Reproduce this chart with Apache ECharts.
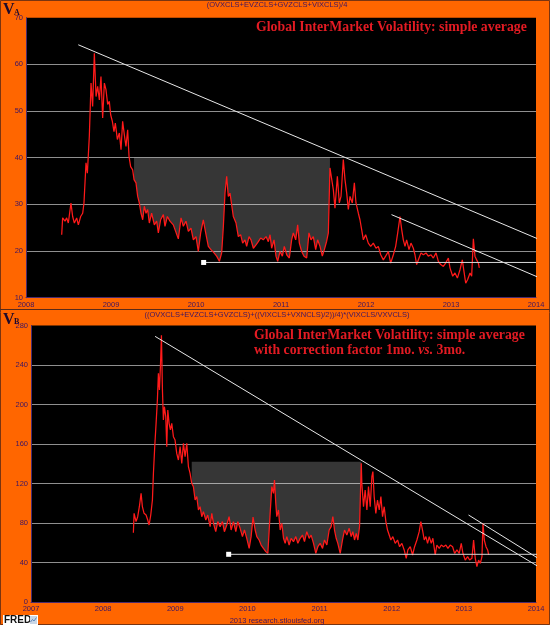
<!DOCTYPE html>
<html>
<head>
<meta charset="utf-8">
<script src="https://cdn.jsdelivr.net/npm/echarts@6/dist/echarts.min.js"></script>
<style>
html, body { margin: 0; padding: 0; background: #ff6600; }
#chart { width: 550px; height: 625px; }
</style>
</head>
<body>
<div id="chart"></div>
<script>
// V_A : (OVXCLS+EVZCLS+GVZCLS+VIXCLS)/4   (dates as decimal years)
var topYears = [2008.420,2008.431,2008.459,2008.478,2008.498,2008.529,2008.549,2008.569,2008.596,2008.616,
  2008.643,2008.667,2008.682,2008.706,2008.722,2008.745,2008.765,2008.784,2008.804,2008.824,
  2008.843,2008.863,2008.882,2008.902,2008.922,2008.941,2008.961,2008.980,2008.996,2009.016,
  2009.035,2009.051,2009.075,2009.098,2009.118,2009.137,2009.157,2009.176,2009.196,2009.212,
  2009.231,2009.255,2009.271,2009.294,2009.314,2009.333,2009.353,2009.373,2009.392,2009.412,
  2009.431,2009.451,2009.478,2009.510,2009.537,2009.557,2009.584,2009.616,2009.635,2009.663,
  2009.694,2009.733,2009.792,2009.824,2009.851,2009.882,2009.910,2009.941,2009.969,2010.000,
  2010.027,2010.055,2010.086,2010.114,2010.145,2010.176,2010.212,2010.243,2010.275,2010.302,
  2010.322,2010.341,2010.361,2010.380,2010.400,2010.439,2010.471,2010.498,2010.525,2010.549,
  2010.576,2010.596,2010.624,2010.647,2010.675,2010.706,2010.733,2010.761,2010.792,2010.824,
  2010.851,2010.871,2010.890,2010.918,2010.941,2010.961,2010.988,2011.016,2011.039,2011.067,
  2011.098,2011.125,2011.145,2011.173,2011.196,2011.216,2011.243,2011.271,2011.302,2011.329,
  2011.353,2011.380,2011.408,2011.431,2011.459,2011.486,2011.510,2011.537,2011.557,2011.576,
  2011.596,2011.616,2011.635,2011.663,2011.686,2011.706,2011.733,2011.753,2011.773,2011.792,
  2011.812,2011.839,2011.863,2011.882,2011.910,2011.929,2011.949,2011.969,2011.996,2012.027,
  2012.055,2012.086,2012.118,2012.145,2012.173,2012.204,2012.231,2012.263,2012.290,2012.322,
  2012.349,2012.373,2012.400,2012.420,2012.439,2012.459,2012.478,2012.506,2012.529,2012.557,
  2012.576,2012.596,2012.624,2012.647,2012.675,2012.706,2012.733,2012.765,2012.792,2012.824,
  2012.851,2012.879,2012.910,2012.937,2012.969,2012.988,2013.020,2013.047,2013.075,2013.106,
  2013.133,2013.153,2013.173,2013.196,2013.224,2013.243,2013.263,2013.282,2013.302,2013.322,
  2013.333];
var topVals = [23.5,27.1,26.4,27.1,26.0,30.3,27.4,26.0,27.1,25.6,
  27.4,28.1,30.3,38.9,36.7,44.6,56.0,51.0,62.4,53.1,
  55.3,52.4,57.4,48.5,56.0,54.6,51.4,52.1,49.2,47.8,
  45.6,47.4,43.9,45.3,41.7,47.8,44.9,42.4,46.0,40.3,
  38.1,37.4,35.3,34.6,31.7,30.3,28.1,26.7,29.6,28.1,
  28.9,26.0,28.1,25.6,26.4,23.9,26.7,27.8,25.3,27.4,
  26.4,25.6,22.6,27.1,25.3,26.4,24.2,24.9,22.4,23.1,
  19.9,23.9,26.7,23.9,21.0,20.3,19.6,18.9,17.8,19.6,
  25.3,32.4,36.0,31.7,32.4,27.4,26.0,23.1,23.5,21.7,
  22.4,21.0,23.1,22.4,20.6,21.3,22.0,22.8,22.4,23.1,
  22.0,23.5,20.6,22.4,18.9,17.8,19.9,18.9,21.0,19.2,
  18.5,22.4,23.9,22.4,25.6,21.7,19.9,18.9,18.5,23.9,
  22.4,23.1,20.3,22.4,21.0,18.9,20.3,22.1,23.9,37.8,
  37.4,33.1,29.2,36.0,30.3,31.7,39.6,35.3,32.4,28.9,
  31.7,30.3,34.6,30.3,28.1,26.7,24.6,22.4,23.5,21.7,
  21.0,21.7,20.6,21.0,19.2,18.1,18.9,19.9,17.4,19.2,
  21.0,23.9,27.4,24.6,22.4,21.0,22.4,20.3,21.7,20.6,
  19.2,17.1,18.5,19.6,19.2,19.6,18.9,19.2,18.5,19.6,
  17.8,17.1,16.7,17.4,18.5,16.4,14.6,15.3,14.2,16.0,
  18.1,15.6,13.1,13.9,15.3,14.6,22.6,18.9,18.1,17.4,
  16.4];
var topTrendLong = [[2008.615, 64.2], [2014.14, 21.7]];
var topTrendShort = [[2012.30, 27.8], [2014.14, 13.5]];
var topFloor = [[2010.09, 17.55], [2014.0, 17.55]];
var topBand = { from: 2009.27, to: 2011.58, level: 40 };

// V_B : ((OVXCLS+EVZCLS+GVZCLS)+((VIXCLS+VXNCLS)/2))/4)*(VIXCLS/VXVCLS)
var botYears = [2008.419,2008.429,2008.456,2008.479,2008.502,2008.526,2008.544,2008.567,2008.595,2008.618,
  2008.637,2008.660,2008.683,2008.697,2008.715,2008.734,2008.752,2008.766,2008.780,2008.794,
  2008.808,2008.822,2008.835,2008.849,2008.868,2008.882,2008.896,2008.914,2008.933,2008.951,
  2008.974,2008.997,2009.020,2009.043,2009.067,2009.090,2009.113,2009.136,2009.159,2009.182,
  2009.205,2009.228,2009.251,2009.275,2009.298,2009.321,2009.344,2009.367,2009.390,2009.423,
  2009.450,2009.483,2009.506,2009.529,2009.561,2009.589,2009.621,2009.654,2009.681,2009.714,
  2009.746,2009.774,2009.806,2009.839,2009.866,2009.899,2009.931,2009.959,2009.991,2010.024,
  2010.051,2010.078,2010.107,2010.130,2010.162,2010.190,2010.222,2010.255,2010.283,2010.315,
  2010.338,2010.361,2010.375,2010.393,2010.407,2010.430,2010.454,2010.477,2010.500,2010.523,
  2010.546,2010.578,2010.606,2010.638,2010.671,2010.699,2010.731,2010.763,2010.791,2010.823,
  2010.856,2010.883,2010.916,2010.948,2010.976,2011.008,2011.041,2011.068,2011.101,2011.133,
  2011.161,2011.184,2011.207,2011.230,2011.253,2011.286,2011.318,2011.346,2011.378,2011.411,
  2011.438,2011.461,2011.485,2011.508,2011.531,2011.554,2011.578,2011.586,2011.609,2011.632,
  2011.656,2011.678,2011.702,2011.725,2011.739,2011.757,2011.780,2011.803,2011.827,2011.850,
  2011.873,2011.896,2011.919,2011.942,2011.965,2011.988,2012.016,2012.049,2012.081,2012.109,
  2012.141,2012.173,2012.201,2012.224,2012.257,2012.289,2012.317,2012.349,2012.381,2012.404,
  2012.427,2012.451,2012.474,2012.497,2012.520,2012.548,2012.571,2012.603,2012.626,2012.659,
  2012.687,2012.719,2012.751,2012.779,2012.811,2012.844,2012.872,2012.904,2012.936,2012.964,
  2012.987,2013.019,2013.052,2013.080,2013.112,2013.135,2013.158,2013.181,2013.204,2013.228,
  2013.251,2013.265,2013.283,2013.307,2013.330,2013.344];
var botVals = [70.2,89.8,81.4,86.4,96.5,110.0,96.5,89.8,88.1,83.0,
  78.0,88.1,103.3,130.3,157.3,181.0,204.6,231.6,214.7,238.3,
  270.0,214.7,184.3,197.8,187.7,157.3,194.4,181.0,174.2,181.0,
  167.4,164.0,150.5,143.8,157.3,140.4,160.7,147.2,160.7,137.0,
  130.3,120.2,116.8,103.3,106.7,93.2,96.5,86.4,91.5,83.0,
  88.1,76.3,89.8,79.7,71.2,81.4,76.3,81.4,71.2,78.0,
  86.4,72.9,81.4,71.2,81.4,74.6,66.2,72.9,64.5,54.3,
  66.2,86.0,72.9,66.2,62.8,57.7,54.3,51.0,49.3,89.8,
  116.8,110.0,123.5,99.9,86.4,93.2,72.9,79.7,64.5,59.4,
  66.2,57.7,64.5,61.1,66.2,59.4,64.5,67.8,61.1,71.2,
  64.5,67.8,59.4,49.3,56.0,59.4,54.3,62.8,57.7,72.9,
  76.3,86.4,72.9,64.5,59.4,49.3,62.8,72.9,67.8,74.6,
  66.2,71.2,62.8,69.5,62.8,76.3,140.4,120.2,96.5,113.4,
  93.2,116.8,96.5,127.0,132.0,106.7,89.8,103.3,93.2,106.7,
  86.4,96.5,81.4,72.9,67.8,62.8,66.2,59.4,62.8,56.0,
  59.4,52.7,44.2,52.7,56.0,47.6,56.0,62.8,71.2,81.4,
  72.9,62.8,66.2,59.4,66.2,59.4,64.5,47.6,57.7,54.3,
  57.7,56.0,57.7,54.3,57.7,56.0,49.3,52.7,49.3,59.4,
  49.3,42.5,45.9,42.5,44.2,62.8,44.2,35.8,42.5,39.2,
  45.9,79.7,62.8,56.0,52.7,47.6];
var botTrendLong = [[2008.72, 269.0], [2014.2, 28.5]];
var botTrendShort = [[2013.065, 88.1], [2014.2, 36.5]];
var botFloor = [[2009.74, 48.3], [2014.2, 48.3]];
var botBand = { from: 2009.225, to: 2011.58, level: 142 };

var tickColor = '#3c1464';
var labelFont = { color: tickColor, fontSize: 7.5, fontFamily: 'Liberation Sans' };

function pairs(xs, ys) {
  return xs.map(function (x, i) { return [x, ys[i]]; });
}

// grey region between the curve and a level
function bandSeries(xs, ys, band, idx) {
  var pts = [];
  xs.forEach(function (x, i) {
    if (x >= band.from && x <= band.to) pts.push([x, ys[i]]);
  });
  return {
    type: 'custom', xAxisIndex: idx, yAxisIndex: idx, silent: true, z: 1,
    data: [[band.from, band.level]],
    renderItem: function (params, api) {
      var poly = pts.map(function (p) { return api.coord(p); });
      poly.push(api.coord([pts[pts.length - 1][0], band.level]));
      poly.push(api.coord([pts[0][0], band.level]));
      return { type: 'polygon', shape: { points: poly }, style: { fill: 'rgba(255,255,255,0.21)' } };
    }
  };
}

function whiteLine(data, idx) {
  return {
    type: 'line', xAxisIndex: idx, yAxisIndex: idx, data: data, clip: false,
    symbol: 'none', silent: true, z: 4,
    lineStyle: { color: '#e8e8e8', width: 1 }
  };
}

function floorLine(data, idx) {
  return {
    type: 'line', xAxisIndex: idx, yAxisIndex: idx, clip: false, silent: true, z: 4,
    data: [
      { value: data[0], symbol: 'rect', symbolSize: 5 },
      { value: data[1], symbol: 'none' }
    ],
    itemStyle: { color: '#ffffff' },
    lineStyle: { color: '#d8d8d8', width: 1 }
  };
}

function redLine(xs, ys, idx) {
  return {
    type: 'line', xAxisIndex: idx, yAxisIndex: idx, data: pairs(xs, ys),
    symbol: 'none', silent: true, z: 3,
    lineStyle: { color: '#ff1a1a', width: 1.25 }
  };
}

function xAxisOf(min, idx) {
  return {
    type: 'value', gridIndex: idx, min: min, max: 2014, interval: 1,
    axisLine: { show: true, lineStyle: { color: '#4b2a6e', width: 1 } },
    axisTick: { show: false },
    splitLine: { show: false },
    axisLabel: Object.assign({ margin: 3, formatter: function (v) { return String(v); } }, labelFont)
  };
}

function yAxisOf(min, max, step, idx) {
  return {
    type: 'value', gridIndex: idx, min: min, max: max, interval: step,
    axisLine: { show: true, lineStyle: { color: '#4b2a6e', width: 1 } },
    axisTick: { show: false },
    splitLine: { show: true, showMinLine: false, showMaxLine: false, lineStyle: { color: '#8f8f8f', width: 1 } },
    axisLabel: Object.assign({ margin: 3 }, labelFont)
  };
}

var titleFont = { fontSize: 15, fontWeight: 'bold', fontFamily: 'Liberation Serif' };

var chart = echarts.init(document.getElementById('chart'));
chart.setOption({
  backgroundColor: '#ff6600',
  animation: false,
  grid: [
    { left: 26, right: 14, top: 17.7, height: 280, show: true, backgroundColor: '#000', borderWidth: 0 },
    { left: 31, right: 14, top: 325.5, height: 276.5, show: true, backgroundColor: '#000', borderWidth: 0 }
  ],
  xAxis: [xAxisOf(2008, 0), xAxisOf(2007, 1)],
  yAxis: [yAxisOf(10, 70, 10, 0), yAxisOf(0, 280, 40, 1)],
  series: [
    bandSeries(topYears, topVals, topBand, 0),
    redLine(topYears, topVals, 0),
    whiteLine(topTrendLong, 0),
    whiteLine(topTrendShort, 0),
    floorLine(topFloor, 0),
    bandSeries(botYears, botVals, botBand, 1),
    redLine(botYears, botVals, 1),
    whiteLine(botTrendLong, 1),
    whiteLine(botTrendShort, 1),
    floorLine(botFloor, 1)
  ],
  graphic: [
    { type: 'rect', shape: { x: 0.5, y: 0.5, width: 549, height: 624 }, silent: true,
      style: { fill: 'none', stroke: '#7a3410', lineWidth: 1 } },
    { type: 'line', shape: { x1: 0, y1: 309.5, x2: 550, y2: 309.5 }, silent: true,
      style: { stroke: '#5a2a18', lineWidth: 1 } },
    // panel letters
    { type: 'text', x: 3, y: 2, silent: true,
      style: { text: 'V', font: 'bold 16px "Liberation Serif"', fill: '#1e0a2c' } },
    { type: 'text', x: 14, y: 9, silent: true,
      style: { text: 'A', font: 'bold 8px "Liberation Serif"', fill: '#1e0a2c' } },
    { type: 'text', x: 3, y: 312, silent: true,
      style: { text: 'V', font: 'bold 16px "Liberation Serif"', fill: '#1e0a2c' } },
    { type: 'text', x: 14, y: 318, silent: true,
      style: { text: 'B', font: 'bold 8px "Liberation Serif"', fill: '#1e0a2c' } },
    // formulas
    { type: 'text', x: 277, y: 5, silent: true,
      style: { text: '(OVXCLS+EVZCLS+GVZCLS+VIXCLS)/4', font: '7.5px "Liberation Sans"', fill: tickColor,
        textAlign: 'center', textVerticalAlign: 'middle', align: 'center', verticalAlign: 'middle' } },
    { type: 'text', x: 277, y: 315, silent: true,
      style: { text: '((OVXCLS+EVZCLS+GVZCLS)+((VIXCLS+VXNCLS)/2))/4)*(VIXCLS/VXVCLS)', font: '7.5px "Liberation Sans"', fill: tickColor,
        textAlign: 'center', textVerticalAlign: 'middle', align: 'center', verticalAlign: 'middle' } },
    // red titles
    { type: 'text', x: 256, y: 27, scaleX: 0.92, silent: true, z: 10,
      style: Object.assign({ text: 'Global InterMarket Volatility: simple average', fill: '#e31b23',
        textAlign: 'left', textVerticalAlign: 'middle', align: 'left', verticalAlign: 'middle' }, titleFont) },
    { type: 'text', x: 254, y: 335, scaleX: 0.92, silent: true, z: 10,
      style: Object.assign({ text: 'Global InterMarket Volatility: simple average', fill: '#e31b23',
        textAlign: 'left', textVerticalAlign: 'middle', align: 'left', verticalAlign: 'middle' }, titleFont) },
    { type: 'text', x: 254, y: 350, scaleX: 0.92, silent: true, z: 10,
      style: Object.assign({ text: 'with correction factor 1mo. {i|vs.} 3mo.', fill: '#e31b23',
        textAlign: 'left', textVerticalAlign: 'middle', align: 'left', verticalAlign: 'middle',
        rich: { i: Object.assign({ fontStyle: 'italic', fill: '#e31b23' }, titleFont) } }, titleFont) },
    // footer
    { type: 'text', x: 277, y: 621, silent: true,
      style: { text: '2013 research.stlouisfed.org', font: '7.5px "Liberation Sans"', fill: tickColor,
        textAlign: 'center', textVerticalAlign: 'middle', align: 'center', verticalAlign: 'middle' } },
    { type: 'rect', shape: { x: 3, y: 615, width: 35, height: 10 }, silent: true, style: { fill: '#ffffff' } },
    { type: 'text', x: 4, y: 620.5, silent: true,
      style: { text: 'FRED', font: 'bold 10px "Liberation Sans"', fill: '#111',
        textVerticalAlign: 'middle', verticalAlign: 'middle' } },
    { type: 'rect', shape: { x: 30, y: 616, width: 7, height: 8 }, silent: true, style: { fill: '#c9d6e6' } },
    { type: 'polyline', shape: { points: [[30.5, 622], [32.5, 619.5], [34, 621], [36.5, 617.5]] }, silent: true,
      style: { stroke: '#5f86b8', lineWidth: 1, fill: 'none' } }
  ]
});
</script>
</body>
</html>
